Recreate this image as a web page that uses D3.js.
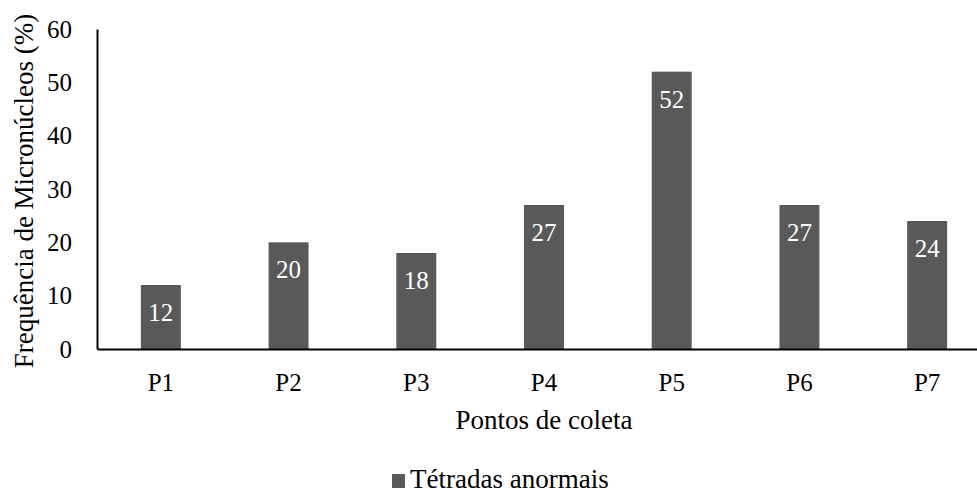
<!DOCTYPE html>
<html><head><meta charset="utf-8">
<script src="https://cdn.jsdelivr.net/npm/d3@7"></script>
</head><body style="margin:0">
<script>
const categories = ["P1","P2","P3","P4","P5","P6","P7"];
const values = [12,20,18,27,52,27,24];
const yTicks = [0,10,20,30,40,50,60];
const seriesName = "Tétradas anormais";
const xTitle = "Pontos de coleta";
const yTitle = "Frequência de Micronúcleos (%)";

const FONT = "Liberation Serif";
const W = 977, H = 495;
const svg = d3.select("body").append("svg").attr("width", W).attr("height", H)
  .style("display", "block").attr("font-family", FONT);
const x = d3.scaleBand().domain(categories).range([97, 991]).paddingInner(0.687).paddingOuter(0.3435);
const y = d3.scaleLinear().domain([0, 60]).range([349, 29]);
const color = "#595959";

svg.append("g").selectAll("rect").data(values).join("rect")
  .attr("x", (d,i) => x(categories[i])).attr("width", x.bandwidth())
  .attr("y", d => y(d)).attr("height", d => y(0) - y(d)).attr("fill", color);

svg.append("g").selectAll("text").data(values).join("text")
  .attr("x", (d,i) => x(categories[i]) + x.bandwidth()/2)
  .attr("y", d => y(d) + 36).attr("text-anchor", "middle")
  .attr("font-family", FONT).attr("fill", "#fff").attr("font-size", 25).text(d => d);

const yAxis = svg.append("g").attr("transform", "translate(97,0)")
  .call(d3.axisLeft(y).tickValues(yTicks).tickSize(0).tickPadding(25));
yAxis.attr("font-family", null).attr("font-size", null);
yAxis.select(".domain").attr("stroke", "#000").attr("stroke-width", 2);
yAxis.selectAll("text").attr("fill", "#000").attr("font-family", FONT).attr("font-size", 25);

const xAxis = svg.append("g").attr("transform", "translate(0,349)")
  .call(d3.axisBottom(x).tickSize(0).tickPadding(24));
xAxis.attr("font-family", null).attr("font-size", null);
xAxis.select(".domain").attr("stroke", "#000").attr("stroke-width", 2);
xAxis.selectAll("text").attr("fill", "#000").attr("font-family", FONT).attr("font-size", 25);

svg.append("text").attr("x", 544).attr("y", 429).attr("text-anchor", "middle")
  .attr("font-family", FONT).attr("font-size", 27).text(xTitle);
svg.append("text").attr("transform", "translate(33,191) rotate(-90)").attr("text-anchor", "middle")
  .attr("font-family", FONT).attr("font-size", 27).text(yTitle);

const lg = svg.append("g").attr("transform", "translate(392,488)");
lg.append("rect").attr("x", 0).attr("y", -14).attr("width", 13).attr("height", 14).attr("fill", color);
lg.append("text").attr("x", 18).attr("y", 0).attr("font-family", FONT).attr("font-size", 27).text(seriesName);
</script>
</body></html>
